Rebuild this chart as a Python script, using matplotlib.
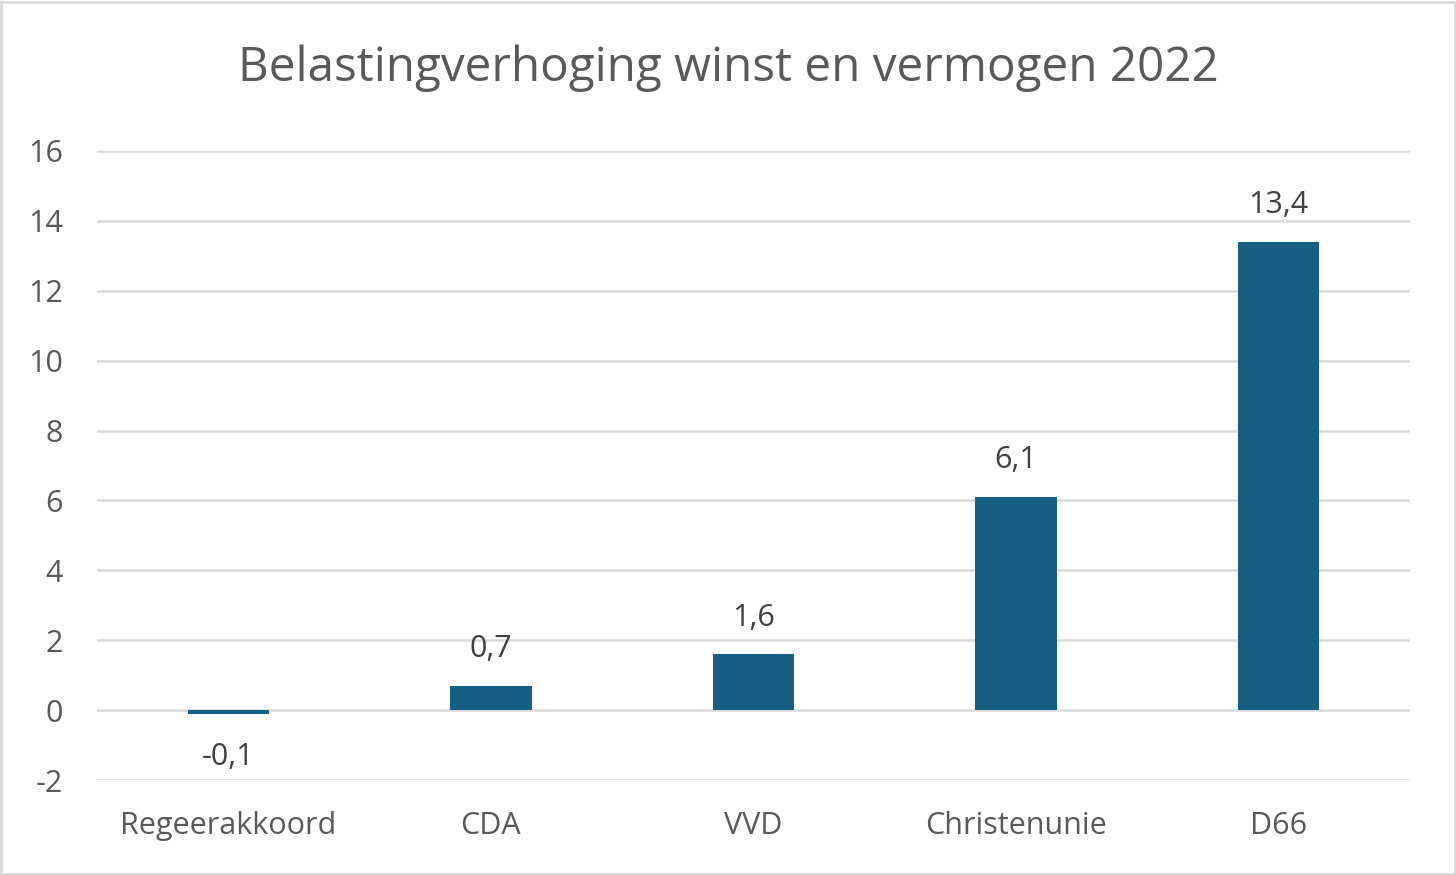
import matplotlib.pyplot as plt
import numpy as np

# data
partijen = ['Regeerakkoord', 'CDA', 'VVD', 'Christenunie', 'D66']
waarden = [-0.1, 0.7, 1.6, 6.1, 13.4]
yticks = [-2, 0, 2, 4, 6, 8, 10, 12, 14, 16]

plt.rcParams['font.family'] = ['Open Sans', 'DejaVu Sans']

fig = plt.figure(figsize=(14.56, 8.75), dpi=100)
ax = fig.add_axes([97/1456, 1 - 780/875, (1410-97)/1456, (780-151)/875])

x = np.arange(len(partijen))
ax.bar(x, waarden, width=0.31, color='#156082', zorder=3)

for xi, v in zip(x, waarden):
    lab = ('%.1f' % v).replace('.', ',')
    if v >= 0:
        ax.text(xi, v + 0.62, lab, ha='center', va='bottom', fontsize=22, color='#404040')
    else:
        ax.text(xi, v - 0.8, lab, ha='center', va='top', fontsize=22, color='#404040')

ax.set_xlim(-0.5, 4.5)
ax.set_ylim(-2, 16)
ax.set_yticks(yticks)
ax.set_yticklabels([str(t) for t in yticks], fontsize=22, color='#595959')
ax.set_xticks(x)
ax.set_xticklabels(partijen, fontsize=22, color='#595959')
ax.tick_params(length=0, pad=0)
ax.tick_params(axis='y', pad=24.5)
ax.tick_params(axis='x', pad=22)
ax.grid(axis='y', color='#D9D9D9', linewidth=1.8, zorder=0)
for s in ax.spines.values():
    s.set_visible(False)

fig.text(728/1456, 1 - 68/875, 'Belastingverhoging winst en vermogen 2022',
         ha='center', va='center', fontsize=34.3, color='#595959')

# frame around the whole chart
fig.patches.append(plt.Rectangle((0.001, 0.001), 0.998, 0.997, transform=fig.transFigure,
                                 fill=False, edgecolor='#D9D9D9', linewidth=2))

fig.savefig('out.png', dpi=100)
